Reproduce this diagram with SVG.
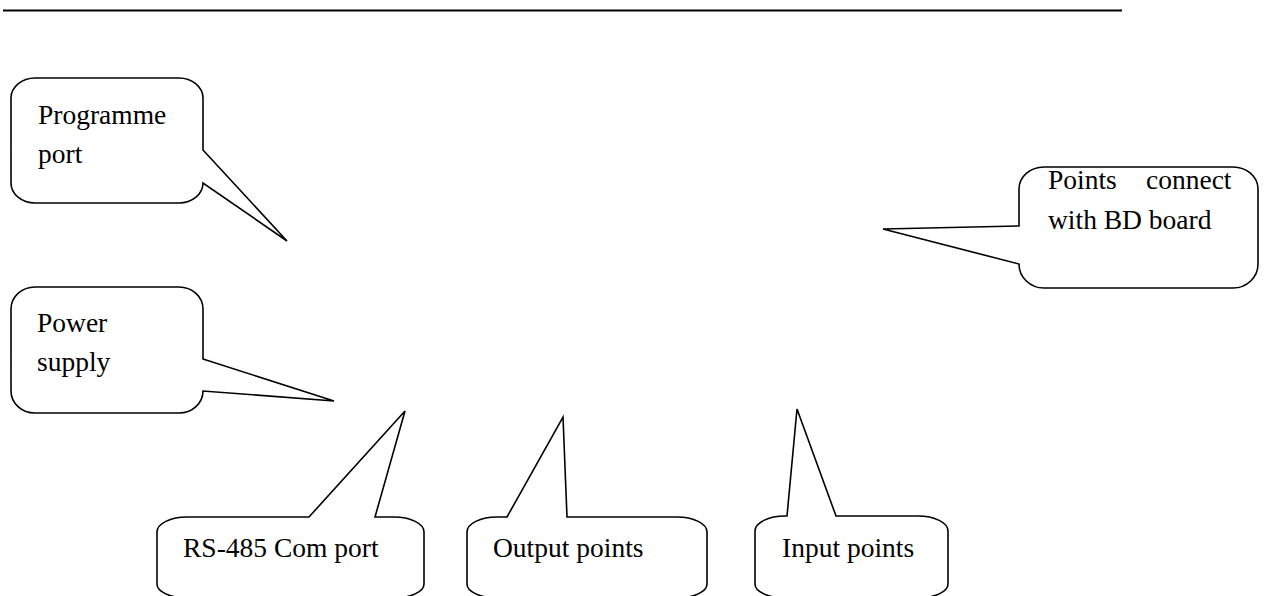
<svg xmlns="http://www.w3.org/2000/svg" width="1264" height="596" viewBox="0 0 1264 596">
<style>
.c{fill:#fff;stroke:#000;stroke-width:1.6;stroke-linejoin:miter}
.t{font-family:"Liberation Serif","Times New Roman",serif;font-size:27.5px;fill:#000}
</style>
<rect width="1264" height="596" fill="#fff"/>
<line x1="3" y1="10.5" x2="1122" y2="10.5" stroke="#000" stroke-width="2"/>
<g id="programme-port">
<path class="c" d="M203,150 L287,241 L203,183 A24 20 0 0 1 179,203 L35,203 A24 20 0 0 1 11,183 L11,98 A24 20 0 0 1 35,78 L179,78 A24 20 0 0 1 203,98 Z"/>
<text class="t" x="38" y="124">Programme</text>
<text class="t" x="38" y="163">port</text>
</g>
<g id="power-supply">
<path class="c" d="M203,359 L334,401 L203,391 A24 22 0 0 1 179,413 L35,413 A24 22 0 0 1 11,391 L11,309 A24 22 0 0 1 35,287 L179,287 A24 22 0 0 1 203,309 Z"/>
<text class="t" x="37" y="332">Power</text>
<text class="t" x="37" y="371">supply</text>
</g>
<g id="points-connect">
<path class="c" d="M1019,226 L883,229 L1019,264 A25 24 0 0 0 1044,288 L1233,288 A25 24 0 0 0 1258,264 L1258,189 A25 22 0 0 0 1233,167 L1044,167 A25 22 0 0 0 1019,189 Z"/>
<text class="t" x="1048" y="189">Points</text>
<text class="t" x="1146" y="189">connect</text>
<text class="t" x="1048" y="229">with BD board</text>
</g>
<g id="rs485">
<path class="c" d="M309,517 L405,411 L375,517 L394,517 A30 15 0 0 1 424,532 L424,584 A30 14 0 0 1 394,598 L187,598 A30 14 0 0 1 157,584 L157,532 A30 15 0 0 1 187,517 Z"/>
<text class="t" x="183" y="557">RS-485 Com port</text>
</g>
<g id="output-points">
<path class="c" d="M507,517 L563,417 L567,517 L677,517 A30 15 0 0 1 707,532 L707,584 A30 14 0 0 1 677,598 L497,598 A30 14 0 0 1 467,584 L467,532 A30 15 0 0 1 497,517 Z"/>
<text class="t" x="493" y="557">Output points</text>
</g>
<g id="input-points">
<path class="c" d="M787,516 L797,409 L836,516 L918,516 A30 15 0 0 1 948,531 L948,584 A30 14 0 0 1 918,598 L785,598 A30 14 0 0 1 755,584 L755,531 A30 15 0 0 1 785,516 Z"/>
<text class="t" x="782" y="557">Input points</text>
</g>
</svg>
